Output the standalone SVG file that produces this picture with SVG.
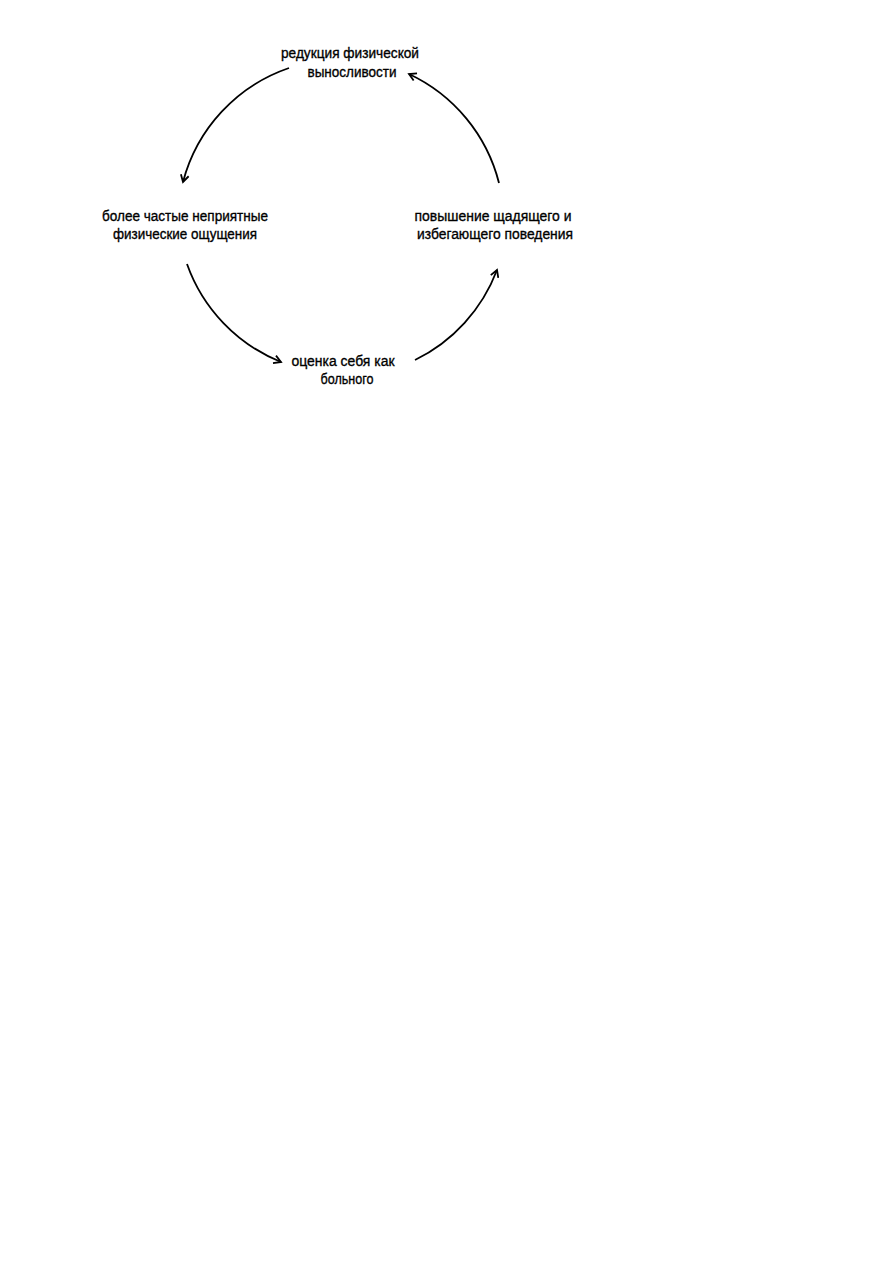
<svg xmlns="http://www.w3.org/2000/svg" width="893" height="1263" viewBox="0 0 893 1263">
<style>
text{font-family:"Liberation Sans",Arial,sans-serif;font-size:15.5px;fill:#000;stroke:#000;stroke-width:0.35;text-anchor:middle}
.c{fill:none;stroke:#000;stroke-width:1.8}
</style>
<defs>
<marker id="ah" markerWidth="10" markerHeight="10" refX="8" refY="5" orient="auto" markerUnits="userSpaceOnUse">
<path d="M1,1 L8,5 L1,9" fill="none" stroke="#000" stroke-width="1.8"/>
</marker>
</defs>
<rect width="893" height="1263" fill="#fff"/>
<g id="connectors">
<path class="c" d="M289 68 A165 165 0 0 0 183 182" marker-end="url(#ah)"/>
<path class="c" d="M499 183 A165 165 0 0 0 409 74" marker-end="url(#ah)"/>
<path class="c" d="M187 264 A165 165 0 0 0 281 362" marker-end="url(#ah)"/>
<path class="c" d="M415 360 A165 165 0 0 0 497 270" marker-end="url(#ah)"/>
</g>
<g id="node-top">
<text x="350" y="58" textLength="138" lengthAdjust="spacingAndGlyphs">редукция физической</text>
<text x="352" y="77" textLength="89" lengthAdjust="spacingAndGlyphs">выносливости</text>
</g>
<g id="node-left">
<text x="185" y="221" textLength="166" lengthAdjust="spacingAndGlyphs">более частые неприятные</text>
<text x="185" y="239" textLength="144" lengthAdjust="spacingAndGlyphs">физические ощущения</text>
</g>
<g id="node-right">
<text x="493" y="221" textLength="157" lengthAdjust="spacingAndGlyphs">повышение щадящего и</text>
<text x="495" y="239" textLength="156" lengthAdjust="spacingAndGlyphs">избегающего поведения</text>
</g>
<g id="node-bottom">
<text x="343" y="366" textLength="103" lengthAdjust="spacingAndGlyphs">оценка себя как</text>
<text x="347" y="384" textLength="53" lengthAdjust="spacingAndGlyphs">больного</text>
</g>
</svg>
